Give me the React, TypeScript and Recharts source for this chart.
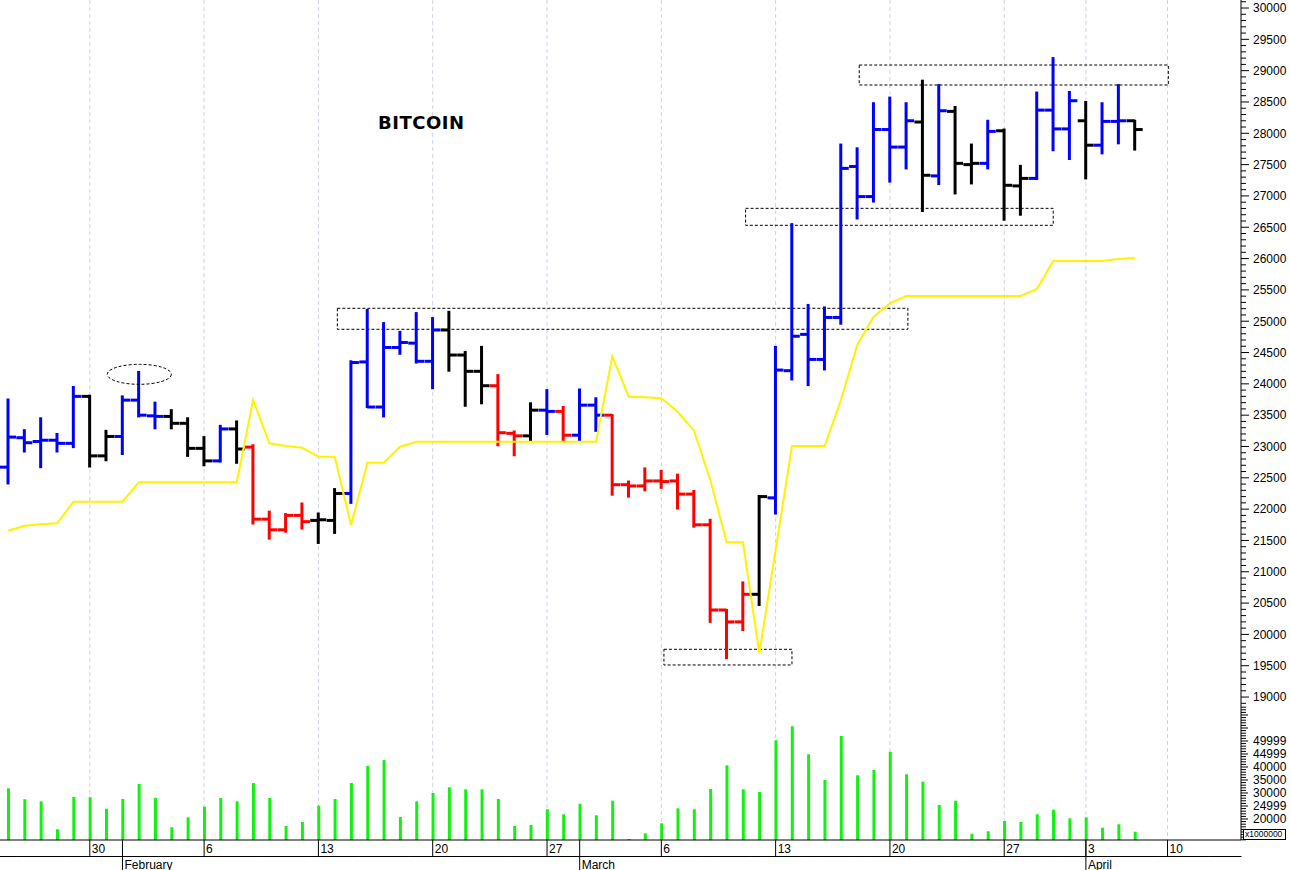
import {
  Bar,
  CartesianGrid,
  ComposedChart,
  Line,
  ReferenceArea,
  ReferenceDot,
  XAxis,
  YAxis,
} from "recharts";

// daily bars, Jan 25 .. Apr 6 (Apr 1-2 missing in the feed)
const opens = [
  22670, 23140, 23080, 23100, 23050, 23800, 22850, 23160, 23740, 23490,
  23480, 23370, 22970, 22770, 23280, 22990, 21840, 21670, 21900, 21820,
  21820, 22250, 24350, 23630, 24580, 24650, 24360, 24860, 24460, 24200,
  23970, 23210, 23170, 23580, 23560, 23180, 23660, 23500, 22390, 22370,
  22450, 22450, 22240, 21750, 20390, 20200, 20640, 22180, 24210, 24790,
  24390, 25060, 27470, 26990, 28060, 27780, 28180, 27320, 28350, 27500,
  27520, 28040, 27160, 27280, 28370, 28070, 28200, 27810, 28190, 28200,
];
const highs = [
  23750, 23260, 23450, 23200, 23950, 23810, 23250, 23800, 24190, 23700,
  23580, 23450, 23150, 23330, 23400, 23020, 21960, 21920, 22090, 21930,
  22320, 24360, 25180, 24970, 24830, 25130, 25050, 25150, 24510, 24590,
  24140, 23240, 23690, 23900, 23630, 23910, 23770, 23500, 22440, 22650,
  22610, 22550, 22290, 21830, 20390, 20830, 22210, 24590, 26550, 25260,
  25220, 27820, 27760, 28480, 28570, 28480, 28840, 28770, 28420, 27820,
  28200, 28060, 27480, 28650, 29200, 28660, 28500, 28480, 28770, 28200,
];
const lows = [
  22410, 22920, 22670, 22920, 22990, 22680, 22780, 22880, 23480, 23290,
  23290, 22850, 22700, 22760, 22740, 21770, 21530, 21640, 21690, 21460,
  21620, 22100, 23630, 23480, 24480, 24340, 23930, 24210, 23650, 23690,
  23020, 22860, 23100, 23200, 23100, 23100, 23250, 22230, 22200, 22300,
  22340, 22010, 21720, 20200, 19620, 20070, 20470, 21930, 24070, 23980,
  24230, 24960, 26640, 26910, 27230, 27440, 26760, 27190, 27040, 27200,
  27440, 26620, 26700, 27270, 27730, 27590, 27280, 27680, 27840, 27740,
];
const closes = [
  23150, 23060, 23100, 23050, 23800, 22850, 23160, 23740, 23500, 23480,
  23370, 22970, 22770, 23280, 22960, 21840, 21670, 21900, 21800, 21830,
  22250, 24340, 23630, 24580, 24660, 24360, 24860, 24460, 24200, 23970,
  23220, 23170, 23580, 23560, 23180, 23660, 23500, 22390, 22370, 22450,
  22440, 22240, 21750, 20390, 20200, 20640, 22200, 24220, 24760, 24390,
  25060, 27440, 26990, 28060, 27780, 28200, 27330, 28360, 27520, 27520,
  28030, 27170, 27280, 28370, 28070, 28520, 27810, 28190, 28200, 28060,
];
// B = blue, K = black, R = red
const tones =
  "BBBBBKKBBBKKKBKRRRRKKBBBBBBKKKRRKBRBBRRRRRRRRRKBBBBBBBBBKBKKBKKBBBKBBK".split("");
// yellow indicator line
const trail = [
  21656, 21735, 21758, 21774, 22119, 22119, 22119, 22119, 22428, 22428,
  22428, 22428, 22428, 22428, 22428, 23742, 23051, 23008, 22981, 22837,
  22837, 21747, 22741, 22741, 22997, 23076, 23076, 23076, 23076, 23076,
  23076, 23076, 23076, 23076, 23076, 23076, 23076, 24440, 23795, 23785,
  23769, 23555, 23252, 22465, 21470, 21470, 19698, 21348, 23008, 23008,
  23008, 23742, 24620, 25072, 25286, 25402, 25402, 25402, 25402, 25402,
  25402, 25402, 25402, 25514, 25961, 25961, 25961, 25961, 25993, 26009,
];
// volume, x1000000
const volumes = [
  31800, 27600, 26800, 16040, 28460, 28350, 23960, 27690, 33460, 28080,
  16810, 20650, 24730, 28080, 26810, 33850, 28080, 17310, 18850, 25120,
  27690, 33850, 40380, 42690, 20770, 26810, 30000, 32190, 31420, 31420,
  27690, 17310, 17690, 23730, 21810, 25880, 21420, 27040, 12310, 14500,
  18350, 24120, 23730, 31540, 40650, 31420, 30380, 50270, 55650, 44880,
  35000, 51920, 36810, 38850, 45880, 37190, 34350, 25380, 27040, 14350,
  15270, 19230, 18850, 21810, 23580, 20270, 20650, 16650, 17960, 15120,
];

const slotCount = 76;
const dayTickIdx = [5, 12, 19, 26, 33, 40, 47, 54, 61, 66, 71];
const dayTickText = ["30", "6", "13", "20", "27", "6", "13", "20", "27", "3", "10"];
const monthIdx = [7, 35, 66];
const monthText = ["February", "March", "April"];

const priceLabelEvery = 500;
const volLabelAt = [20000, 25000, 30000, 35000, 40000, 45000, 50000];
const volLabelText = ["20000", "24999", "30000", "35000", "40000", "44999", "49999"];

// dotted boxes / ring drawn on the chart (x in bar slots, y in price)
const boxes = [
  { x1: 20.16, x2: 55.1, y1: 24871, y2: 25206 },
  { x1: 45.16, x2: 64.0, y1: 26531, y2: 26802 },
  { x1: 52.12, x2: 71.05, y1: 28771, y2: 29090 },
  { x1: 40.16, x2: 48.0, y1: 19512, y2: 19762 },
];
const ring = { x: 8.03, y: 24152 };

const rows = Array.from({ length: slotCount }, (_, i) =>
  i < opens.length
    ? {
        i,
        open: opens[i],
        high: highs[i],
        low: lows[i],
        close: closes[i],
        tone: tones[i],
        hl: [lows[i], highs[i]],
        trail: trail[i],
        vol: volumes[i],
      }
    : { i }
);

const priceTicks: number[] = [];
for (let v = 18900; v <= 30100; v += 100) priceTicks.push(v);
const volTicks: number[] = [];
for (let v = 12000; v <= 63000; v += 1000) volTicks.push(v);

const W = 1290;
const PLOT_W = 1241;
const BAND = PLOT_W / slotCount;
const FONT = "'Liberation Sans', Arial, sans-serif";
const toneColor: Record<string, string> = { B: "#0000ff", K: "#000000", R: "#ff0000" };

function OhlcShape(props: any) {
  const { x, y, width, height, payload } = props;
  if (!payload || payload.open == null) return null;
  const { open, high, low, close, tone } = payload;
  const top = Math.min(y, y + height);
  const bot = Math.max(y, y + height);
  const span = high - low || 1;
  const py = (p: number) => top + ((high - p) / span) * (bot - top);
  const cx = x + width / 2;
  return (
    <g stroke={toneColor[tone]} strokeWidth={3}>
      <line x1={cx} x2={cx} y1={top - 1} y2={bot + 1} />
      <line x1={cx - 8} x2={cx} y1={py(open)} y2={py(open)} />
      <line x1={cx} x2={cx + 8} y1={py(close)} y2={py(close)} />
    </g>
  );
}

function PriceTick(props: any) {
  const { x, y, payload } = props;
  const v = payload.value;
  const major = v % priceLabelEvery === 0 && v >= 19000 && v <= 30000;
  return (
    <g>
      <line x1={x} x2={x + (major ? 8 : 5)} y1={y} y2={y} stroke="#000" />
      {major && (
        <text x={x + 12} y={y + 4.3} fontSize={12} fontFamily={FONT} fill="#000">
          {v}
        </text>
      )}
    </g>
  );
}

function VolTick(props: any) {
  const { x, y, payload } = props;
  const v = payload.value;
  const k = volLabelAt.indexOf(v);
  const major = v % 5000 === 0;
  return (
    <g>
      <line x1={x} x2={x + (major ? 7 : 5)} y1={y} y2={y} stroke="#000" />
      {k >= 0 && (
        <text x={x + 12} y={y + 4.3} fontSize={12} fontFamily={FONT} fill="#000">
          {volLabelText[k]}
        </text>
      )}
    </g>
  );
}

function DateTick(props: any) {
  const { x, y, payload } = props;
  const i = payload.value;
  const d = dayTickIdx.indexOf(i);
  const m = monthIdx.indexOf(i);
  return (
    <g>
      <line x1={x - BAND / 2} x2={x + BAND / 2 + 0.5} y1={y + 16.5} y2={y + 16.5} stroke="#000" />
      {d >= 0 && (
        <>
          <line x1={x} x2={x} y1={y} y2={y + 16.5} stroke="#000" />
          <text x={x + 2} y={y + 13} fontSize={12} fontFamily={FONT} fill="#000">
            {dayTickText[d]}
          </text>
        </>
      )}
      {m >= 0 && (
        <>
          <line x1={x} x2={x} y1={y} y2={y + 30} stroke="#000" />
          <text x={x + 2} y={y + 28.5} fontSize={12} fontFamily={FONT} fill="#000">
            {monthText[m]}
          </text>
        </>
      )}
    </g>
  );
}

export default function App() {
  return (
    <div
      style={{
        position: "fixed",
        left: 0,
        top: 0,
        width: W,
        height: 870,
        background: "#fff",
        overflow: "hidden",
      }}
    >
      <ComposedChart
        width={W}
        height={706}
        data={rows}
        margin={{ top: 0, right: 0, left: 0, bottom: 0 }}
      >
        <XAxis dataKey="i" type="category" hide />
        <XAxis xAxisId="g" dataKey="i" type="category" ticks={dayTickIdx} interval={0} hide />
        <XAxis
          xAxisId="n"
          dataKey="i"
          type="number"
          domain={["dataMin - 0.5", "dataMax + 0.5"]}
          allowDataOverflow
          hide
        />
        <YAxis
          orientation="right"
          width={W - PLOT_W}
          type="number"
          domain={[18857, 30128]}
          allowDataOverflow
          ticks={priceTicks}
          interval={0}
          tickLine={false}
          tickSize={0}
          tickMargin={0}
          axisLine={{ stroke: "#000" }}
          tick={PriceTick}
        />
        <CartesianGrid
          xAxisId="g"
          horizontal={false}
          syncWithTicks
          stroke="#cfcfea"
          strokeDasharray="4 3"
        />
        <Line
          dataKey="trail"
          stroke="#fff200"
          strokeWidth={2}
          dot={false}
          activeDot={false}
          isAnimationActive={false}
        />
        <Bar dataKey="hl" barSize={16} shape={OhlcShape} isAnimationActive={false} />
        {boxes.map((b, k) => (
          <ReferenceArea
            key={k}
            xAxisId="n"
            x1={b.x1}
            x2={b.x2}
            y1={b.y1}
            y2={b.y2}
            fill="none"
            stroke="#000"
            strokeDasharray="3 2"
          />
        ))}
        <ReferenceDot
          xAxisId="n"
          x={ring.x}
          y={ring.y}
          r={10}
          shape={(p: any) => (
            <ellipse
              cx={p.cx}
              cy={p.cy}
              rx={32}
              ry={10}
              fill="none"
              stroke="#000"
              strokeDasharray="3 2"
            />
          )}
        />
      </ComposedChart>
      <ComposedChart
        width={W}
        height={164}
        data={rows}
        margin={{ top: 0, right: 0, left: 0, bottom: 0 }}
      >
        <XAxis
          dataKey="i"
          type="category"
          height={30}
          interval={0}
          tickLine={false}
          tickSize={0}
          tickMargin={0}
          axisLine={{ stroke: "#000" }}
          tick={DateTick}
        />
        <XAxis xAxisId="g" dataKey="i" type="category" ticks={dayTickIdx} interval={0} hide />
        <YAxis
          orientation="right"
          width={W - PLOT_W}
          type="number"
          domain={[11923, 63460]}
          allowDataOverflow
          ticks={volTicks}
          interval={0}
          tickLine={false}
          tickSize={0}
          tickMargin={0}
          axisLine={{ stroke: "#000" }}
          tick={VolTick}
        />
        <CartesianGrid
          xAxisId="g"
          horizontal={false}
          syncWithTicks
          stroke="#cfcfea"
          strokeDasharray="4 3"
        />
        <Bar dataKey="vol" fill="#14f014" barSize={3} isAnimationActive={false} />
      </ComposedChart>
      <div
        style={{
          position: "absolute",
          left: 378,
          top: 114,
          font: "bold 18px 'DejaVu Sans', Verdana, sans-serif",
          lineHeight: "18px",
          letterSpacing: 0.5,
          color: "#000",
        }}
      >
        BITCOIN
      </div>
      <div
        style={{
          position: "absolute",
          left: 1243,
          top: 829,
          width: 43,
          height: 11,
          boxSizing: "border-box",
          border: "1px solid #000",
          background: "#fff",
          fontFamily: FONT,
          fontSize: 8.5,
          lineHeight: "9px",
          paddingLeft: 1,
          color: "#000",
        }}
      >
        x1000000
      </div>
    </div>
  );
}
